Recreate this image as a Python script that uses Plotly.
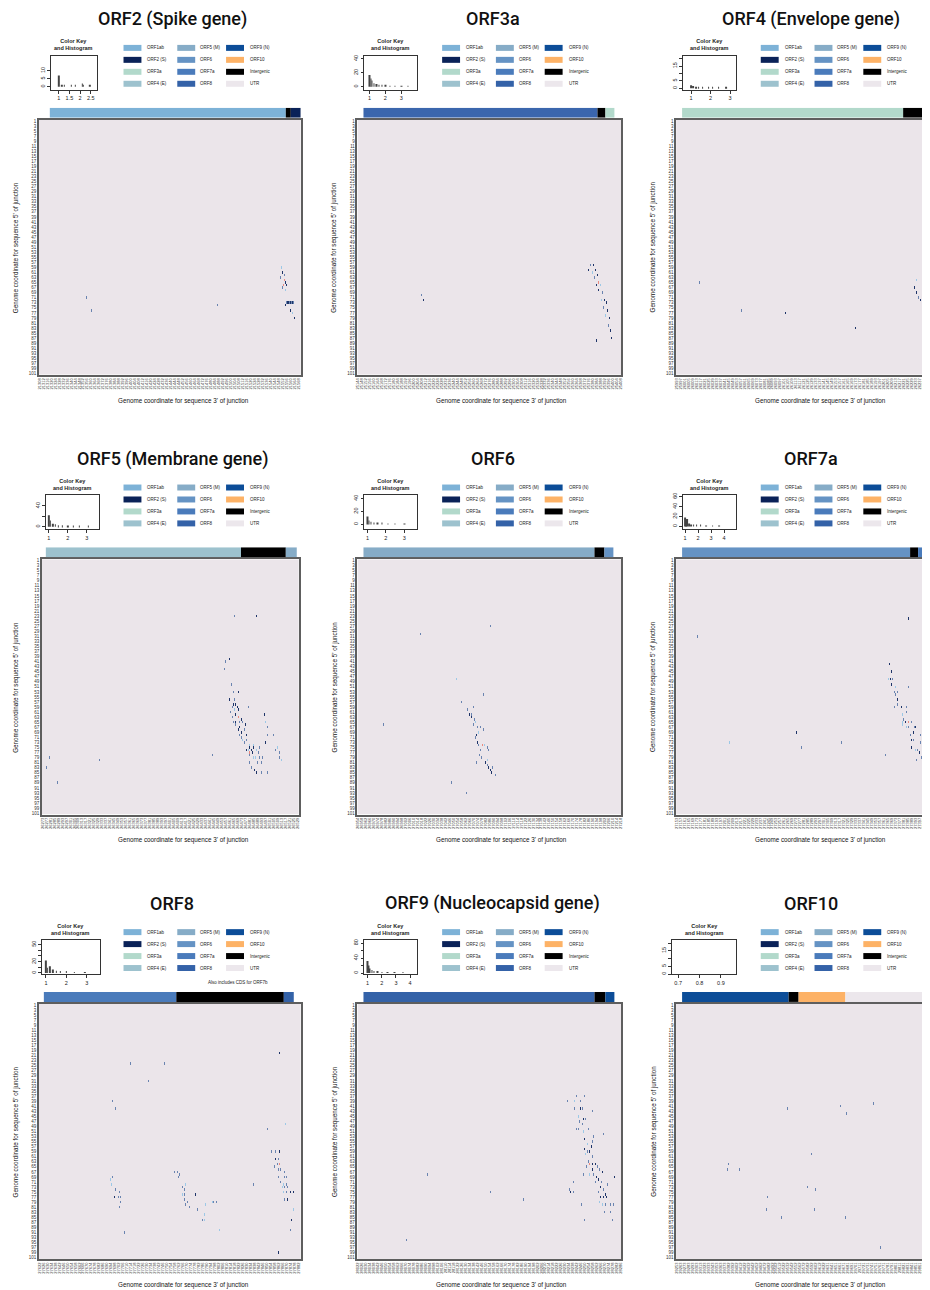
import plotly.graph_objects as go

W, H = 930, 1290
PAGE_OFF = 8  # browser default body margin

TITLES = ["ORF2 (Spike gene)", "ORF3a", "ORF4 (Envelope gene)",
          "ORF5 (Membrane gene)", "ORF6", "ORF7a",
          "ORF8", "ORF9 (Nucleocapsid gene)", "ORF10"]

LEG_LABELS = ["ORF1ab", "ORF2 (S)", "ORF3a", "ORF4 (E)",
              "ORF5 (M)", "ORF6", "ORF7a", "ORF8",
              "ORF9 (N)", "ORF10", "Intergenic", "UTR"]
LEG_COLORS = ["#7DB2D7", "#0A2258", "#B2D9CB", "#9DC2CE",
              "#86ACC7", "#6593C4", "#4A7BBB", "#3462A8",
              "#0C4D98", "#FDB266", "#000000", "#ECE7EC"]

# genome coordinate of first column and nt per column (x tick labels)
XLAB_START = [21308, 25144, 25993, 26273, 26954, 27153, 27622, 28022, 29253]
XLAB_STEP = [1, 1, 1, 1, 1, 1, 1, 1, 2.49]

# annotation bar: first column, categories and run lengths (columns)
BAR_START = [11, 6, 6, 4, 6, 6, 5, 6, 6]
BAR_CATS = [["ORF1ab", "Intergenic", "ORF2 (S)"],
            ["ORF2 (S)", "Intergenic", "ORF3a"],
            ["ORF3a", "Intergenic", "ORF4 (E)"],
            ["ORF4 (E)", "Intergenic", "ORF5 (M)"],
            ["ORF5 (M)", "Intergenic", "ORF6"],
            ["ORF6", "Intergenic", "ORF7a"],
            ["ORF7a", "Intergenic", "ORF8"],
            ["ORF8", "Intergenic", "ORF9 (N)"],
            ["ORF9 (N)", "Intergenic", "ORF10", "UTR"]]
BAR_LENS = [[237, 5, 10], [235, 8, 9], [222, 20, 13], [196, 45, 11],
            [232, 10, 9], [229, 8, 18], [133, 108, 10], [232, 11, 9],
            [107, 10, 47, 91]]
BAR_COLOR_OVERRIDE = {(1, 0): "#3B66AD"}

# junction cells: (column, row, value)
orf2_cells = [(243, 59, 3), (244, 61, 1), (246, 62, 2), (242, 63, 2), (246, 64, 4), (247, 65, 1),
              (245, 66, 4), (244, 67, 2), (247, 68, 3), (248, 66, 1), (248, 73, 2), (249, 73, 1),
              (250, 73, 1), (251, 73, 2), (252, 73, 1), (253, 73, 2), (254, 73, 1), (255, 73, 2),
              (247, 74, 1), (252, 76, 1), (254, 77, 3), (256, 79, 1), (179, 74, 2), (47, 71, 2),
              (52, 76, 2)]
orf3a_cells = [(64, 70, 2), (66, 72, 1), (239, 88, 1), (233, 58, 2), (236, 58, 1), (231, 60, 1),
               (238, 60, 1), (235, 61, 3), (240, 62, 1), (237, 63, 2), (241, 65, 4), (239, 66, 1),
               (243, 66, 3), (241, 68, 1), (245, 69, 2), (247, 72, 1), (244, 72, 3), (249, 73, 1),
               (246, 75, 2), (250, 76, 1), (248, 78, 3), (252, 79, 1), (251, 82, 2), (253, 84, 1),
               (254, 87, 1)]
orf4_cells = [(23, 65, 2), (65, 76, 2), (109, 77, 1), (180, 83, 1), (241, 64, 3), (239, 67, 1),
              (241, 69, 1), (243, 71, 2), (245, 72, 1), (248, 75, 1), (251, 77, 1)]
orf5_cells = [(193, 23, 2), (215, 23, 1), (188, 40, 1), (184, 41, 2), (183, 44, 2), (190, 50, 2),
              (192, 53, 2), (197, 53, 1), (193, 56, 2), (188, 56, 1), (192, 58, 1), (194, 58, 1),
              (191, 59, 2), (196, 59, 1), (193, 60, 3), (197, 60, 1), (189, 61, 2), (194, 62, 1),
              (191, 63, 2), (197, 63, 4), (198, 65, 2), (200, 64, 1), (194, 65, 1), (201, 65, 2),
              (204, 66, 1), (192, 65, 2), (194, 66, 2), (198, 67, 1), (203, 68, 2), (207, 59, 2),
              (197, 68, 1), (200, 69, 1), (205, 70, 1), (198, 70, 2), (200, 71, 2), (201, 72, 3),
              (203, 73, 2), (205, 72, 2), (208, 74, 3), (208, 75, 1), (212, 74, 3), (212, 75, 1),
              (205, 76, 1), (207, 76, 3), (210, 76, 1), (208, 77, 4), (211, 77, 1), (215, 76, 3),
              (218, 75, 2), (217, 77, 2), (208, 78, 2), (212, 79, 3), (214, 79, 3), (218, 79, 2),
              (221, 79, 2), (216, 81, 2), (220, 81, 2), (208, 81, 2), (210, 83, 2), (213, 84, 1),
              (215, 85, 1), (220, 85, 2), (226, 85, 2), (223, 62, 1), (224, 65, 3), (226, 67, 2),
              (226, 70, 2), (232, 70, 2), (224, 73, 1), (236, 75, 3), (234, 76, 2), (238, 77, 2),
              (238, 79, 2), (240, 80, 3), (171, 78, 2), (7, 79, 2), (4, 83, 2), (15, 89, 2),
              (57, 80, 2)]
orf6_cells = [(99, 48, 3), (126, 54, 2), (104, 57, 2), (116, 59, 2), (110, 60, 2), (112, 62, 1),
              (114, 62, 2), (114, 63, 1), (117, 64, 2), (118, 65, 3), (116, 66, 2), (120, 67, 2),
              (123, 67, 2), (126, 68, 2), (121, 69, 3), (119, 70, 1), (118, 71, 2), (120, 73, 1),
              (121, 74, 2), (125, 74, 4), (127, 74, 3), (130, 75, 2), (123, 76, 2), (122, 78, 2),
              (131, 76, 2), (124, 79, 2), (130, 80, 3), (128, 81, 1), (119, 81, 2), (131, 83, 1),
              (130, 82, 2), (133, 84, 1), (135, 83, 2), (134, 85, 1), (138, 86, 2), (63, 30, 2),
              (133, 27, 2), (26, 66, 2), (94, 89, 2), (109, 93, 2)]
orf7a_cells = [(233, 24, 1), (214, 42, 1), (216, 45, 1), (213, 48, 3), (215, 48, 1), (217, 48, 2),
               (216, 50, 1), (220, 51, 3), (233, 51, 2), (219, 53, 2), (222, 53, 2), (220, 54, 2),
               (222, 56, 1), (219, 59, 2), (222, 58, 2), (226, 59, 1), (231, 59, 2), (231, 61, 2),
               (227, 62, 3), (228, 64, 2), (227, 65, 3), (230, 65, 1), (233, 65, 4), (236, 65, 2),
               (227, 66, 3), (231, 67, 3), (233, 67, 2), (239, 67, 2), (238, 69, 1), (240, 67, 1),
               (235, 70, 2), (245, 70, 2), (236, 72, 1), (238, 72, 2), (247, 72, 1), (245, 73, 2),
               (248, 74, 1), (236, 75, 1), (240, 76, 3), (242, 76, 2), (244, 77, 1), (247, 77, 3),
               (250, 76, 2), (252, 74, 3), (246, 79, 2), (249, 80, 2), (241, 80, 2), (248, 82, 3),
               (252, 83, 2), (252, 85, 1), (252, 88, 1), (210, 78, 2), (21, 31, 2), (53, 73, 3),
               (120, 69, 1), (125, 75, 2), (166, 73, 2)]
orf8_cells = [(241, 20, 1), (91, 24, 2), (126, 24, 2), (110, 31, 2), (73, 39, 2), (76, 42, 2),
              (229, 50, 2), (247, 48, 3), (233, 59, 2), (237, 59, 2), (241, 59, 1), (237, 62, 1),
              (240, 62, 2), (239, 64, 2), (241, 64, 4), (236, 65, 2), (240, 66, 2), (242, 66, 2),
              (246, 67, 2), (240, 69, 2), (246, 69, 2), (248, 69, 2), (242, 71, 2), (245, 72, 3),
              (248, 72, 2), (244, 73, 3), (246, 73, 2), (249, 73, 2), (245, 75, 3), (248, 75, 2),
              (252, 75, 1), (255, 75, 1), (246, 78, 2), (249, 78, 1), (255, 82, 3), (253, 86, 1),
              (252, 90, 2), (240, 99, 1), (215, 72, 2), (73, 69, 2), (71, 70, 3), (72, 72, 3),
              (76, 74, 2), (80, 75, 2), (75, 77, 1), (79, 77, 2), (81, 77, 2), (81, 79, 2),
              (80, 81, 2), (85, 91, 2), (136, 67, 2), (139, 67, 2), (141, 68, 2), (140, 69, 2),
              (144, 73, 2), (147, 72, 3), (146, 74, 2), (144, 76, 3), (146, 76, 2), (146, 78, 2),
              (149, 79, 2), (147, 80, 2), (151, 81, 2), (157, 76, 1), (159, 82, 2), (167, 80, 3),
              (166, 84, 3), (164, 86, 2), (166, 86, 3), (174, 79, 3), (175, 79, 2), (178, 79, 2),
              (181, 90, 3)]
orf9_cells = [(219, 37, 2), (227, 37, 2), (210, 39, 2), (217, 39, 3), (223, 39, 2), (223, 42, 1),
              (225, 42, 2), (217, 42, 2), (235, 43, 2), (221, 45, 3), (226, 46, 1), (228, 46, 2),
              (222, 47, 2), (225, 48, 2), (221, 50, 2), (231, 50, 2), (226, 51, 3), (219, 50, 2),
              (236, 53, 2), (246, 52, 2), (227, 54, 1), (235, 55, 2), (230, 56, 3), (234, 57, 1),
              (227, 58, 1), (230, 59, 2), (232, 59, 1), (228, 60, 3), (235, 61, 2), (231, 63, 2),
              (232, 64, 4), (235, 64, 1), (229, 65, 2), (238, 64, 1), (240, 65, 2), (235, 66, 1),
              (242, 66, 2), (245, 67, 1), (226, 68, 2), (232, 68, 3), (236, 68, 2), (239, 69, 1),
              (241, 70, 1), (244, 71, 2), (257, 69, 1), (238, 71, 2), (243, 73, 1), (246, 74, 2),
              (241, 75, 2), (250, 72, 2), (248, 76, 1), (243, 77, 1), (246, 77, 1), (249, 77, 1),
              (242, 79, 3), (245, 80, 3), (248, 80, 2), (253, 80, 2), (256, 80, 2), (247, 83, 2),
              (253, 83, 2), (227, 86, 2), (255, 86, 2), (216, 71, 2), (212, 74, 2), (213, 75, 1),
              (216, 75, 2), (224, 80, 2), (70, 68, 2), (133, 75, 2), (166, 78, 2), (49, 94, 2)]
orf10_cells = [(111, 42, 2), (165, 41, 2), (171, 44, 2), (198, 40, 2), (52, 64, 2), (51, 66, 2),
               (63, 66, 2), (135, 60, 2), (131, 73, 2), (139, 74, 2), (91, 77, 2), (90, 82, 2),
               (105, 85, 2), (138, 82, 2), (170, 85, 2), (205, 97, 2)]
CELLS = [orf2_cells, orf3a_cells, orf4_cells, orf5_cells, orf6_cells,
         orf7a_cells, orf8_cells, orf9_cells, orf10_cells]

# colour key histograms
HIST_X = [[1.0, 1.15, 1.25, 1.6, 1.78, 2.1, 2.15, 2.45],
          [1.0, 1.08, 1.16, 1.3, 1.45, 1.6, 1.8, 2.0, 2.3, 2.6, 3.0, 3.4],
          [1.0, 1.1, 1.25, 1.4, 1.6, 1.9, 2.1, 2.4, 2.8],
          [1.0, 1.08, 1.2, 1.35, 1.5, 1.7, 2.0, 2.3, 2.6, 3.1],
          [1.0, 1.08, 1.2, 1.35, 1.55, 1.8, 2.1, 2.5, 3.0],
          [1.0, 1.08, 1.16, 1.3, 1.45, 1.65, 1.9, 2.2, 2.6, 3.1, 3.6],
          [1.0, 1.08, 1.2, 1.35, 1.5, 1.7, 2.0, 2.4, 2.9],
          [1.0, 1.07, 1.15, 1.3, 1.45, 1.7, 2.0, 2.4, 2.9, 3.5],
          []]
HIST_Y = [[7, 1, 1, 0.6, 0.6, 2, 1, 1],
          [17, 12, 9, 5, 4, 3, 2, 2, 1, 1, 1, 1],
          [2, 1.5, 1, 1, 0.6, 0.6, 0.4, 0.4, 0.3],
          [22, 12, 6, 5, 3, 3, 2, 1, 1, 1],
          [12, 6, 4, 3, 3, 2, 1, 1, 1],
          [18, 14, 15, 6, 4, 3, 2, 2, 1, 1, 1],
          [22, 9, 12, 6, 4, 3, 2, 1, 1],
          [32, 20, 12, 8, 5, 3, 2, 1, 1, 1],
          []]
HIST_XRANGE = [[0.63, 2.77], [0.69, 4.0], [0.59, 3.3], [0.84, 3.63], [0.84, 3.7],
               [0.85, 4.9], [0.8, 3.63], [0.79, 4.5], [0.672, 0.97]]
HIST_XTICKS = [[1, 1.5, 2, 2.5], [1, 2, 3], [1, 2, 3], [1, 2, 3], [1, 2, 3],
               [1, 2, 3, 4], [1, 2, 3], [1, 2, 3, 4], [0.7, 0.8, 0.9]]
HIST_YRANGE = [[-1.9, 19.4], [-4.3, 44.3], [-1, 21.9], [-5, 60], [-7.7, 44.6],
               [-6, 62], [-1.8, 57.9], [-2.7, 88], [0, 21.9]]
HIST_YTICKS = [[0, 5, 10], [0, 20, 40], [0, 5, 10, 15, 20], [0, 20, 40], [0, 20, 40],
               [0, 20, 40, 60], [0, 10, 20, 30, 40, 50], [0, 20, 40, 60, 80], [0, 5, 10, 15, 20]]
HIST_YTEXT = [["0", "5", "10"], ["0", "20", "40"], ["0", "5", "", "15", ""], ["0", "", "40"],
              ["0", "20", "40"], ["0", "20", "40", "60"], ["0", "", "20", "", "", "50"],
              ["0", "", "40", "", "80"], ["0", "5", "", "15", ""]]

# ---------------- layout geometry (page pixels) ----------------
FRAME_X = [(37, 300), (357, 622), (677, 938), (40, 298), (357, 622), (677, 938),
           (37, 300), (357, 622), (677, 938)]
ROW_DY = [0, 441, 887]
COL_DX = [0, 320, 640]
HIST_BOX_X = [(49, 95), (364, 417), (684, 737), (44, 97), (364, 417), (684, 737),
              (40, 98), (364, 417), (673, 737)]
TITLE_CX = [171, 493, 812]
XTITLE_CX = [182, 502, 822]
VISIBLE_X = 926

COLORSCALE = [[0, "#EBE5EA"], [0.2499, "#EBE5EA"], [0.25, "#1E3468"],
              [0.5, "#6A84B0"], [0.75, "#9CC8E6"], [1.0, "#E98A80"]]
FONT = "Liberation Sans, Arial, sans-serif"


def fx(px):
    return (px - PAGE_OFF) / W


def fy(py):
    return 1 - (py - PAGE_OFF) / H


def axn(k):
    return "" if k == 1 else str(k)


fig = go.Figure()
layout = {}
ann = []
shapes = []
LEG_COL_X = [(122, 140, 144), (176, 194, 197), (225, 243, 247)]
LEG_ROW_Y = [45, 57, 69, 81]

k = 0
for p in range(9):
    r, c = divmod(p, 3)
    dy, dx = ROW_DY[r], COL_DX[c]
    x0, x1 = FRAME_X[p]
    ncols = x1 - x0

    # ---------- heatmap ----------
    k += 1
    hk = k
    z = [[0] * ncols for _ in range(101)]
    for col, row, val in CELLS[p]:
        z[row - 1][col] = val
    fig.add_trace(go.Heatmap(z=z, x=list(range(ncols)), y=list(range(1, 102)),
                             colorscale=COLORSCALE, zmin=0, zmax=4, showscale=False,
                             hoverinfo="skip", xaxis="x" + axn(hk), yaxis="y" + axn(hk)))
    tv = [i for i in range(0, ncols, 4) if x0 + i <= VISIBLE_X]
    tt = [str(int(round(XLAB_START[p] + i * XLAB_STEP[p]))) for i in tv]
    layout["xaxis" + axn(hk)] = dict(
        domain=[fx(x0), min(1.0, fx(x1))], anchor="y" + axn(hk), range=[-0.5, ncols - 0.5],
        showgrid=False, zeroline=False, showline=True, mirror=True, linecolor="#5E5E5E",
        linewidth=1.6, tickmode="array", tickvals=tv, ticktext=tt, tickangle=-90,
        tickfont=dict(size=4, color="#333", family=FONT), ticks="")
    layout["yaxis" + axn(hk)] = dict(
        domain=[fy(373 + dy), fy(117 + dy)], anchor="x" + axn(hk), range=[101.5, 0.5],
        showgrid=False, zeroline=False, showline=True, mirror=True, linecolor="#5E5E5E",
        linewidth=1.6, tickmode="array", tickvals=list(range(1, 102, 2)),
        ticktext=[str(v) for v in range(1, 102, 2)],
        tickfont=dict(size=4.5, color="#333", family=FONT), ticks="")

    # ---------- annotation bar ----------
    k += 1
    bk = k
    base = BAR_START[p] - 0.5
    for j, (cat, ln) in enumerate(zip(BAR_CATS[p], BAR_LENS[p])):
        colr = BAR_COLOR_OVERRIDE.get((p, j), LEG_COLORS[LEG_LABELS.index(cat)])
        fig.add_trace(go.Bar(x=[ln], y=[0], base=[base], orientation="h", width=1,
                             marker=dict(color=colr, line=dict(width=0)), showlegend=False,
                             hoverinfo="skip", xaxis="x" + axn(bk), yaxis="y" + axn(bk)))
        base += ln
    layout["xaxis" + axn(bk)] = dict(domain=[fx(x0), min(1.0, fx(x1))], anchor="y" + axn(bk),
                                     range=[-0.5, ncols - 0.5], visible=False)
    layout["yaxis" + axn(bk)] = dict(domain=[fy(115 + dy), fy(105 + dy)], anchor="x" + axn(bk),
                                     range=[-0.5, 0.5], visible=False)

    # ---------- colour key histogram ----------
    k += 1
    gk = k
    hx0, hx1 = HIST_BOX_X[p]
    xr = HIST_XRANGE[p]
    if HIST_X[p]:
        fig.add_trace(go.Bar(x=HIST_X[p], y=HIST_Y[p], width=(xr[1] - xr[0]) * 0.008,
                             marker=dict(color="#444", line=dict(width=0)), showlegend=False,
                             hoverinfo="skip", xaxis="x" + axn(gk), yaxis="y" + axn(gk)))
    else:
        fig.add_trace(go.Scatter(x=[], y=[], showlegend=False,
                                 xaxis="x" + axn(gk), yaxis="y" + axn(gk)))
    layout["xaxis" + axn(gk)] = dict(
        domain=[fx(hx0), fx(hx1)], anchor="y" + axn(gk), range=xr, showgrid=False,
        zeroline=False, showline=True, mirror=True, linecolor="#333", linewidth=0.8,
        tickmode="array", tickvals=HIST_XTICKS[p], ticks="outside", ticklen=3,
        tickwidth=0.7, tickcolor="#333", tickfont=dict(size=5.5, color="#222", family=FONT))
    layout["yaxis" + axn(gk)] = dict(
        domain=[fy(87 + dy), fy(53 + dy)], anchor="x" + axn(gk), range=HIST_YRANGE[p],
        showgrid=False, zeroline=False, showline=True, mirror=True, linecolor="#333",
        linewidth=0.8, tickmode="array", tickvals=HIST_YTICKS[p], ticktext=HIST_YTEXT[p],
        ticks="outside", ticklen=3, tickwidth=0.7, tickcolor="#333", tickangle=-90,
        tickfont=dict(size=5.5, color="#222", family=FONT))

    # ---------- texts ----------
    ann.append(dict(x=fx(TITLE_CX[c]), y=fy(16 + dy), xref="paper", yref="paper",
                    text=TITLES[p], showarrow=False, xanchor="center", yanchor="middle",
                    font=dict(size=18, color="#111", family="Roboto", weight=500)))
    ann.append(dict(x=fx((hx0 + hx1) / 2), y=fy(42 + dy), xref="paper", yref="paper",
                    text="<b>Color Key<br>and Histogram</b>", showarrow=False,
                    xanchor="center", yanchor="middle",
                    font=dict(size=5.5, color="#222", family=FONT)))
    ann.append(dict(x=fx(XTITLE_CX[c]), y=fy(399 + dy), xref="paper", yref="paper",
                    text="Genome coordinate for sequence 3' of junction", showarrow=False,
                    xanchor="center", yanchor="middle",
                    font=dict(size=6.3, color="#111", family=FONT)))
    ann.append(dict(x=fx(14 + dx), y=fy(245 + dy), xref="paper", yref="paper",
                    text="Genome coordinate for sequence 5' of junction", showarrow=False,
                    textangle=-90, xanchor="center", yanchor="middle",
                    font=dict(size=6.3, color="#111", family=FONT)))

    # ---------- category legend ----------
    for i, (lab, colr) in enumerate(zip(LEG_LABELS, LEG_COLORS)):
        lc, lr = divmod(i, 4)
        sx0, sx1, tx = LEG_COL_X[lc]
        yc = LEG_ROW_Y[lr] + dy
        shapes.append(dict(type="rect", xref="paper", yref="paper",
                           x0=fx(sx0 + dx), x1=fx(sx1 + dx), y0=fy(yc + 3), y1=fy(yc - 3),
                           fillcolor=colr, line=dict(width=0)))
        ann.append(dict(x=fx(tx + dx), y=fy(yc), xref="paper", yref="paper", text=lab,
                        showarrow=False, xanchor="left", yanchor="middle",
                        font=dict(size=4.5, color="#222", family=FONT)))

ann.append(dict(x=fx(237), y=fy(983), xref="paper", yref="paper",
                text="Also includes CDS for ORF7b", showarrow=False,
                xanchor="center", yanchor="middle", font=dict(size=4.5, color="#222", family=FONT)))

fig.update_layout(width=W, height=H, margin=dict(l=0, r=0, t=0, b=0),
                  paper_bgcolor="white", plot_bgcolor="white", showlegend=False,
                  barmode="overlay", font=dict(family=FONT),
                  annotations=ann, shapes=shapes, **layout)
fig.write_html("out.html")
